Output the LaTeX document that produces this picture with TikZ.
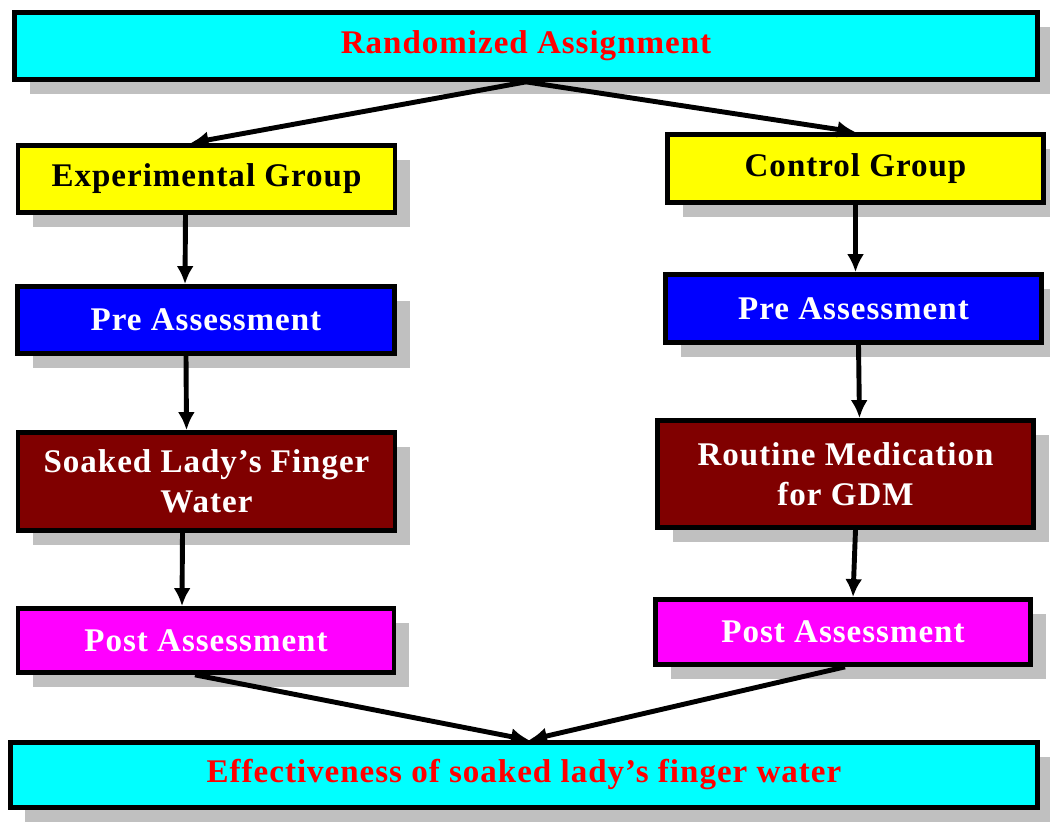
\documentclass[tikz,border=0pt]{standalone}
\usepackage{fontspec}
\setmainfont{Liberation Serif}[LetterSpace=3]
\usetikzlibrary{arrows.meta,shadows}
\definecolor{boxcyan}{RGB}{0,255,255}
\definecolor{boxyellow}{RGB}{255,255,0}
\definecolor{boxblue}{RGB}{0,0,255}
\definecolor{boxmaroon}{RGB}{128,0,0}
\definecolor{boxmagenta}{RGB}{255,0,255}
\definecolor{shadowgray}{RGB}{192,192,192}
\tikzset{
  flowbox/.style={draw, line width=2.7pt, align=center, inner sep=2pt,
    font=\fontsize{18.8}{22.5}\selectfont\bfseries,
    drop shadow={shadow xshift=0.3cm, shadow yshift=-0.3cm, fill=shadowgray, opacity=1}},
  widebox/.style={flowbox, fill=boxcyan, text=red, minimum width=20.46cm, minimum height=1.34cm},
  groupbox/.style={flowbox, fill=boxyellow, text=black, minimum width=7.54cm, minimum height=1.34cm},
  prebox/.style={flowbox, fill=boxblue, text=white, minimum width=7.54cm, minimum height=1.34cm},
  treatbox/.style={flowbox, fill=boxmaroon, text=white, minimum width=7.54cm},
  postbox/.style={flowbox, fill=boxmagenta, text=white, minimum width=7.52cm, minimum height=1.28cm},
  flowarrow/.style={-{Latex[length=0.36cm,width=0.34cm]}, line width=2.8pt}
}
\begin{document}
\begin{tikzpicture}
\useasboundingbox (0,0) rectangle (21,-16.46);
\node[widebox] (rand) at (10.52,-0.92) {Randomized Assignment};
\node[groupbox] (exp) at (4.13,-3.58) {Experimental Group};
\node[groupbox, minimum width=7.52cm, minimum height=1.36cm] (ctrl) at (17.11,-3.37) {Control Group};
\node[prebox] (preL) at (4.12,-6.40) {Pre Assessment};
\node[prebox, minimum width=7.52cm, minimum height=1.36cm] (preR) at (17.07,-6.17) {Pre Assessment};
\node[treatbox, minimum height=1.96cm] (soak) at (4.13,-9.63) {Soaked Lady’s Finger\\Water};
\node[treatbox, minimum width=7.52cm, minimum height=2.14cm] (rout) at (16.91,-9.48) {Routine Medication\\for GDM};
\node[postbox] (postL) at (4.12,-12.81) {Post Assessment};
\node[postbox, minimum width=7.50cm, minimum height=1.30cm] (postR) at (16.86,-12.64) {Post Assessment};
\node[widebox, minimum width=20.54cm, minimum height=1.30cm] (eff) at (10.48,-15.50) {Effectiveness of soaked lady’s finger water};
% randomization
\draw[flowarrow] (rand.south) -- ([xshift=-0.32cm]exp.north);
\draw[flowarrow] (rand.south) -- (ctrl.north);
% experimental arm
\draw[flowarrow] ([xshift=-0.42cm]exp.south) -- ([xshift=-0.42cm]preL.north);
\draw[flowarrow] ([xshift=-0.4cm]preL.south) -- ([xshift=-0.4cm]soak.north);
\draw[flowarrow] ([xshift=-0.48cm]soak.south) -- ([xshift=-0.48cm]postL.north);
% control arm
\draw[flowarrow] (ctrl.south) -- ([xshift=0.04cm]preR.north);
\draw[flowarrow] ([xshift=0.1cm]preR.south) -- ([xshift=0.28cm]rout.north);
\draw[flowarrow] ([xshift=0.2cm]rout.south) -- ([xshift=0.2cm]postR.north);
% outcome
\draw[flowarrow] ([xshift=-0.22cm]postL.south) -- ([xshift=0.1cm]eff.north);
\draw[flowarrow] ([xshift=0.04cm]postR.south) -- ([xshift=0.1cm]eff.north);
\end{tikzpicture}
\end{document}
